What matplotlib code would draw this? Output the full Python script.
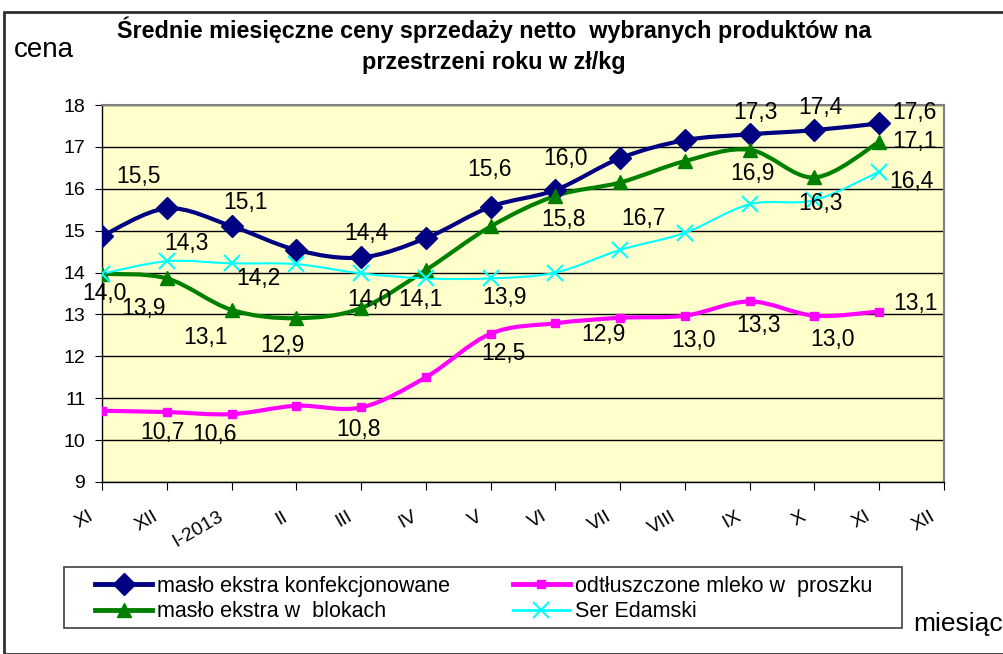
import numpy as np
import matplotlib
matplotlib.use("Agg")
import matplotlib.pyplot as plt
from matplotlib.path import Path
from matplotlib.patches import PathPatch, Rectangle
from matplotlib.lines import Line2D
from matplotlib.transforms import ScaledTranslation

plt.rcParams['font.family'] = ['Liberation Sans', 'DejaVu Sans']

months = ['XI', 'XII', 'I-2013', 'II', 'III', 'IV', 'V', 'VI', 'VII', 'VIII', 'IX', 'X', 'XI', 'XII']

maslo_konf = [14.87, 15.53, 15.11, 14.54, 14.36, 14.82, 15.57, 15.97, 16.73, 17.16, 17.30, 17.40, 17.56]
maslo_blok = [13.97, 13.86, 13.11, 12.91, 13.15, 14.06, 15.10, 15.83, 16.15, 16.66, 16.93, 16.27, 17.12]
mleko = [10.70, 10.67, 10.62, 10.82, 10.78, 11.50, 12.54, 12.79, 12.92, 12.97, 13.31, 12.97, 13.07]
ser = [13.97, 14.27, 14.22, 14.20, 13.98, 13.86, 13.86, 14.00, 14.54, 14.95, 15.63, 15.73, 16.41]

names = ['masło ekstra konfekcjonowane', 'masło ekstra w  blokach',
         'odtłuszczone mleko w  proszku', 'Ser Edamski']

# which points carry a value label, with label offset in points (dx, dy)
lab_konf = {1: (-20, 23), 2: (10, 17), 4: (4, 17), 6: (-1, 27), 7: (7, 23), 10: (4, 16), 11: (4, 16), 12: (25, 8)}
lab_blok = {1: (-17, -22), 2: (-19, -20), 3: (-10, -20), 5: (-4, -21), 7: (6, -17), 9: (-30, -41), 10: (2, -17), 11: (4, -19), 12: (25, 0)}
lab_mleko = {1: (-3, -15), 2: (-12, -15), 4: (-2, -16), 6: (9, -14), 8: (-12, -12), 9: (6, -18), 10: (6, -17), 11: (13, -17), 12: (26, 6)}
lab_ser = {0: (2, -14), 1: (14, 13), 2: (19, -11), 4: (6, -19), 6: (10, -14), 12: (23, -7)}


def smooth_path(xs, ys):
    # Bezier curve through the points, like excel "smoothed line"
    pts = np.column_stack([xs, ys]).astype(float)
    n = len(pts)
    verts = [pts[0]]
    codes = [Path.MOVETO]
    for i in range(n - 1):
        p0 = pts[i - 1] if i > 0 else pts[i]
        p1 = pts[i]
        p2 = pts[i + 1]
        p3 = pts[i + 2] if i + 2 < n else pts[i + 1]
        c1 = p1 + (p2 - p0) / 6.0
        c2 = p2 - (p3 - p1) / 6.0
        verts += [c1, c2, p2]
        codes += [Path.CURVE4] * 3
    return Path(verts, codes)


fig = plt.figure(figsize=(10.04, 6.54), dpi=100)
W, H = 1004.0, 654.0

ax = fig.add_axes([102 / W, 1 - 482 / H, (944 - 102) / W, (482 - 105) / H])
ax.set_facecolor('#FFFFCC')
ax.set_xlim(0, 13)
ax.set_ylim(9, 18)
ax.set_yticks(range(9, 19))
ax.yaxis.grid(True, color='black', linewidth=1)
ax.set_axisbelow(True)
for s in ax.spines.values():
    s.set_color('#808080')
    s.set_linewidth(1.5)
ax.spines['left'].set_color('black')
ax.spines['left'].set_linewidth(1)
ax.spines['bottom'].set_color('black')
ax.spines['bottom'].set_linewidth(1)

x = np.arange(len(maslo_konf))
ax.set_xticks(np.arange(len(months)))
ax.set_xticklabels(months, rotation=30, ha='right', va='center', rotation_mode='anchor', fontsize=14)
ax.tick_params(axis='x', length=6, direction='out', pad=18, color='black')
ax.tick_params(axis='y', length=5, direction='out', labelsize=14, pad=7)
shift = ScaledTranslation(-7 / 72, 0, fig.dpi_scale_trans)
for t in ax.get_xticklabels():
    t.set_transform(t.get_transform() + shift)

series = [
    (maslo_konf, '#000080', 3, 'D', 11, lab_konf),
    (maslo_blok, '#008000', 3, '^', 10, lab_blok),
    (mleko, '#FF00FF', 3, 's', 6, lab_mleko),
    (ser, '#00FFFF', 1.5, 'x', 11, lab_ser),
]
handles = []
for vals, col, lw, mk, ms, labs in series:
    mew = 1.5 if mk == 'x' else 1
    ax.add_patch(PathPatch(smooth_path(x, vals), facecolor='none', edgecolor=col, lw=lw, zorder=3))
    ax.plot(x, vals, linestyle='none', marker=mk, markersize=ms, color=col, markeredgewidth=mew, zorder=4)
    for i, (dx, dy) in labs.items():
        ax.annotate(('%.1f' % vals[i]).replace('.', ','), (x[i], vals[i]), xytext=(dx, dy),
                    textcoords='offset points', ha='center', va='center', fontsize=16.5, zorder=5)
    handles.append(Line2D([], [], color=col, lw=lw + 0.5, marker=mk,
                          markersize=ms, markeredgewidth=mew))

# legend entries without frame, frame drawn separately like the excel box
leg = fig.legend(handles, names, ncol=2, loc='upper left',
                 bbox_to_anchor=(95 / W, 1 - 576 / H), fontsize=15.5, frameon=False,
                 handlelength=2.65, handletextpad=0.25, columnspacing=2.9,
                 borderpad=0, labelspacing=0.2, borderaxespad=0)
fig.add_artist(Rectangle((64 / W, 1 - 628 / H), (902 - 64) / W, (628 - 567) / H,
                         transform=fig.transFigure, facecolor='white', edgecolor='#404040',
                         lw=1.2, zorder=0))

fig.text(494 / W, 1 - 30 / H, 'Średnie miesięczne ceny sprzedaży netto  wybranych produktów na',
         ha='center', va='center', fontsize=16.8, fontweight='bold')
fig.text(494 / W, 1 - 62 / H, 'przestrzeni roku w zł/kg', ha='center', va='center',
         fontsize=16.8, fontweight='bold')
fig.text(14 / W, 1 - 50 / H, 'cena', ha='left', va='center', fontsize=20)
fig.text(1003 / W, 1 - 624 / H, 'miesiąc', ha='right', va='center', fontsize=19)

fig.add_artist(Rectangle((4 / W, 0), 1.2, 1 - 12 / H, transform=fig.transFigure,
                         facecolor='none', edgecolor='#303030', lw=2))

fig.savefig('out.png', dpi=100)
